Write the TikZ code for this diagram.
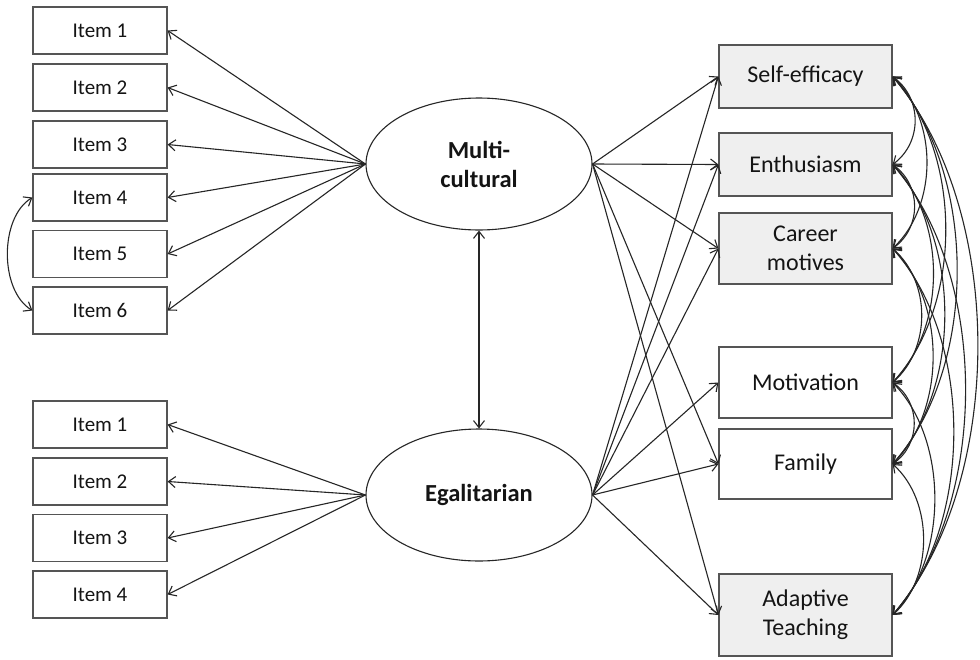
\documentclass[tikz,border=0pt]{standalone}
\usepackage{fontspec}
\setmainfont{Carlito}
\usetikzlibrary{shapes.geometric,arrows.meta}
\definecolor{lineC}{HTML}{262626}
\definecolor{boxC}{HTML}{555555}
\definecolor{shadeC}{HTML}{EFEFEF}
\definecolor{textC}{HTML}{141414}
\newcommand\covar[4]{\draw[cov] (#1.east) .. controls +(#3,#4) and +(#3,-#4) .. (#2.east);}
\begin{document}
\begin{tikzpicture}[x=1pt,y=-1pt,
  itembox/.style={draw=boxC,line width=1.2pt,minimum width=134pt,minimum height=47pt,inner sep=0pt,font=\fontsize{21}{25}\selectfont,text=textC},
  outbox/.style={draw=boxC,line width=1.2pt,minimum width=173pt,minimum height=63pt,inner sep=0pt,align=center,font=\fontsize{24}{29}\selectfont,text=textC},
  shaded/.style={fill=shadeC},
  latent/.style={draw=lineC,line width=1.1pt,ellipse,minimum width=226pt,minimum height=132pt,inner sep=0pt,align=center,font=\fontsize{24.5}{29}\selectfont\bfseries,text=textC},
  path/.style={draw=lineC,line width=1.1pt,-{Straight Barb[length=7pt,width=11pt,line width=1.1pt]}},
  cov/.style={draw=lineC,line width=1.1pt,{Straight Barb[length=7pt,width=11pt,line width=1.1pt]}-{Straight Barb[length=7pt,width=11pt,line width=1.1pt]}}
]
\useasboundingbox[fill=white] (0,0) rectangle (980,659);

% left items (multicultural)
\node[itembox] (a1) at (100,30.5) {Item 1};
\node[itembox] (a2) at (100,87.5) {Item 2};
\node[itembox] (a3) at (100,144.5) {Item 3};
\node[itembox] (a4) at (100,197.5) {Item 4};
\node[itembox] (a5) at (100,254) {Item 5};
\node[itembox] (a6) at (100,310.5) {Item 6};
% left items (egalitarian)
\node[itembox] (b1) at (100,424.5) {Item 1};
\node[itembox] (b2) at (100,481.5) {Item 2};
\node[itembox] (b3) at (100,538) {Item 3};
\node[itembox] (b4) at (100,594.5) {Item 4};

% latent
\node[latent] (M) at (479,164) {Multi-\\cultural};
\node[latent] (E) at (479,495) {\raisebox{-3pt}{Egalitarian}};

% outcomes
\node[outbox,shaded] (se) at (805.5,76.5) {Self-efficacy};
\node[outbox,shaded] (en) at (805.5,164.5) {Enthusiasm};
\node[outbox,shaded,minimum height=71pt] (ca) at (805.5,248.5) {Career\\motives};
\node[outbox,minimum height=71pt] (mo) at (805.5,382.5) {Motivation};
\node[outbox,minimum height=70pt] (fa) at (805.5,464) {Family};
\node[outbox,shaded,minimum height=82pt] (ad) at (805.5,615) {Adaptive\\Teaching};

% loadings
\foreach \i in {a1,a2,a3,a4,a5,a6} \draw[path] (M.west) -- (\i.east);
\foreach \i in {b1,b2,b3,b4} \draw[path] (E.west) -- (\i.east);

% latent covariance
\draw[cov] (M.south) -- (E.north);

% residual covariance left
\draw[cov] (a4.west) .. controls +(-33,20) and +(-33,-20) .. (a6.west);

% structural paths
\foreach \o in {se,en,ca,fa,ad} \draw[path] (M.east) -- (\o.west);
\foreach \o in {se,en,ca,mo,fa,ad} \draw[path] (E.east) -- (\o.west);

% outcome covariances
\covar{se}{en}{29.7}{22}
\covar{se}{ca}{45.5}{43}
\covar{se}{mo}{70.6}{77}
\covar{se}{fa}{85.8}{97}
\covar{se}{ad}{113.4}{134}
\covar{en}{ca}{29}{21}
\covar{en}{mo}{54.2}{55}
\covar{en}{fa}{69.3}{75}
\covar{en}{ad}{97}{112}
\covar{ca}{mo}{38.5}{34}
\covar{ca}{fa}{53.7}{54}
\covar{ca}{ad}{81.3}{91}
\covar{mo}{fa}{28.5}{20}
\covar{mo}{ad}{56}{57}
\covar{fa}{ad}{41}{37}
\end{tikzpicture}
\end{document}
